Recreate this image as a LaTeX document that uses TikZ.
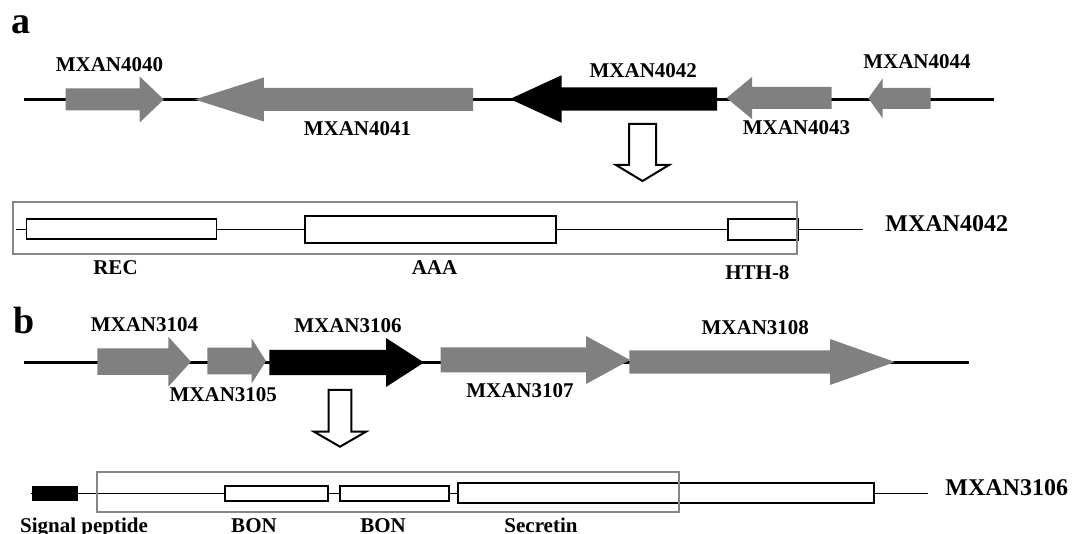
\documentclass[tikz,border=0pt]{standalone}
\usepackage{fontspec}
\setmainfont{Liberation Serif}
\usetikzlibrary{positioning}
\definecolor{genegray}{RGB}{128,128,128}
\definecolor{framegray}{RGB}{135,135,135}

% gene arrow: [fill]{tail}{head base}{tip}{y}{body half}{head half}
\newcommand{\gene}[7][genegray]{%
  \fill[#1] (#2,#5-#6) -- (#3,#5-#6) -- (#3,#5-#7) -- (#4,#5)
    -- (#3,#5+#7) -- (#3,#5+#6) -- (#2,#5+#6) -- cycle;}
% open down arrow: {x}{top}{head base}{tip}{shaft half}{head half}
\newcommand{\openarrow}[6]{%
  \draw[openarr] (#1-#5,#2) -- (#1+#5,#2) -- (#1+#5,#3) -- (#1+#6,#3)
    -- (#1,#4) -- (#1-#6,#3) -- (#1-#5,#3) -- cycle;}

\begin{document}
\begin{tikzpicture}[
    x=0.5pt, y=-0.5pt,
    lbl/.style={font=\bfseries\fontsize{10.5}{12}\selectfont, inner sep=0, anchor=base},
    protname/.style={font=\bfseries\fontsize{12}{14}\selectfont, inner sep=0, anchor=base west},
    panel/.style={font=\bfseries\fontsize{19}{22}\selectfont, inner sep=0, anchor=base},
    backbone/.style={line width=1.2pt},
    protline/.style={line width=0.6pt},
    dombox/.style={draw, fill=white, line width=0.9pt},
    boxframe/.style={draw=framegray, line width=1.1pt},
    openarr/.style={draw, fill=white, line width=1pt, line join=miter}
]
    \useasboundingbox (0,0) rectangle (1072,534);

    % Panel a: gene cluster
    \node[panel] (pa) at (20.5,33.3) {a};
    \draw[backbone] (24,99.5) -- (994,99.5);
    \gene{65.5}{139.7}{163.8}{99.5}{11}{23}
    \gene{473}{263.8}{194.8}{99.5}{11.5}{22}
    \gene[black]{717}{561.7}{510}{99}{11.7}{23.8}
    \gene{831.7}{752}{726.6}{98}{11}{21}
    \gene{930.7}{882.7}{868.3}{98.3}{10.5}{20}
    \node[lbl] (g4040) at (109.5,71.7) {MXAN4040};
    \node[lbl] (g4041) at (357.5,136) {MXAN4041};
    \node[lbl] (g4042) at (643.3,77.3) {MXAN4042};
    \node[lbl] (g4043) at (796.5,135) {MXAN4043};
    \node[lbl] (g4044) at (917,68.3) {MXAN4044};
    \openarrow{642.5}{124}{165}{181}{13.5}{26.5}

    % Panel a: domains of MXAN4042
    \draw[protline] (15.5,229.3) -- (862.8,229.3);
    \draw[dombox] (26.5,219.3) rectangle (216.5,239.3);
    \draw[dombox] (305,216) rectangle (556,242.7);
    \draw[dombox] (728,219) rectangle (798,240);
    \draw[boxframe] (13,202.3) rectangle (797,254);
    \node[lbl] (rec) at (115.5,275) {REC};
    \node[lbl] (aaa) at (434.5,275) {AAA};
    \node[lbl] (hth) at (757.4,280) {HTH-8};
    \node[protname] (p4042) at (885,231.7) {MXAN4042};

    % Panel b: gene cluster
    \node[panel] (pb) at (24.3,333.3) {b};
    \draw[backbone] (24,362.5) -- (968.6,362.5);
    \gene{97.3}{168.3}{191}{361.7}{13.3}{25}
    \gene{207.3}{251.7}{266}{361}{13.3}{22.5}
    \gene[black]{269.3}{386}{424}{362.5}{12.7}{24.5}
    \gene{440.7}{586}{630}{360}{12.5}{24}
    \gene{629.3}{830}{895}{362}{11.7}{23}
    \node[lbl] (g3104) at (144.5,331.7) {MXAN3104};
    \node[lbl] (g3105) at (223.3,401.7) {MXAN3105};
    \node[lbl] (g3106) at (348,332.3) {MXAN3106};
    \node[lbl] (g3107) at (520,397.3) {MXAN3107};
    \node[lbl] (g3108) at (755.3,335) {MXAN3108};
    \openarrow{340}{390}{431.7}{446.7}{11.3}{26}

    % Panel b: domains of MXAN3106
    \draw[protline] (31,493.3) -- (928.3,493.3);
    \fill (31.7,486) rectangle (78.3,501);
    \draw[dombox] (224.8,486) rectangle (327.6,501);
    \draw[dombox] (340,486) rectangle (449,501);
    \draw[dombox] (458.3,483.3) rectangle (873.8,503.3);
    \draw[boxframe] (97,471.7) rectangle (679.3,511.7);
    \node[lbl] (sig) at (84,532) {Signal peptide};
    \node[lbl] (bon1) at (254,532) {BON};
    \node[lbl] (bon2) at (383,532) {BON};
    \node[lbl] (sec) at (541,532.5) {Secretin};
    \node[protname] (p3106) at (945,495) {MXAN3106};
\end{tikzpicture}
\end{document}
